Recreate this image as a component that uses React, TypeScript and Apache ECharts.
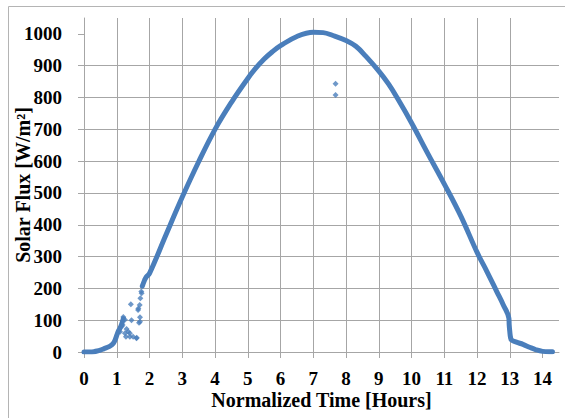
import React, { useEffect, useRef } from "react";
import * as echarts from "echarts";

// Normalized time [hours] and solar flux [W/m²]
const dawnHours = [0.0, 0.1, 0.2, 0.3, 0.4, 0.5, 0.6, 0.7, 0.8, 0.9, 0.95, 1.0, 1.05, 1.1, 1.15, 1.2];
const dawnFlux = [0, 0, 0, 1, 3, 6, 10, 14, 19, 28, 38, 52, 66, 75, 88, 105];

const dayHours = [
  1.78, 1.85, 1.9, 2.0, 2.5, 3.0, 3.5, 4.0, 4.5, 5.0, 5.25, 5.5, 5.75, 6.0, 6.5, 7.0, 7.3, 7.6, 8.0, 8.3,
  8.6, 9.0, 9.3, 9.6, 10.0, 10.5, 11.0, 11.5, 12.0, 12.3, 12.6, 12.8, 12.97, 12.98, 13.0, 13.02, 13.05,
  13.2, 13.4, 13.6, 13.8, 14.0, 14.2, 14.3,
];
const dayFlux = [
  207, 226, 236, 247, 368, 487, 598, 700, 785, 860, 893, 921, 944, 963, 992, 1005, 1004, 995, 979, 961,
  930, 883, 842, 792, 720, 623, 528, 428, 313, 253, 190, 148, 106, 85, 62, 46, 38,
  31, 24, 15, 7, 2, 1, 1,
];

const scatterHours = [
  1.1, 1.15, 1.18, 1.2, 1.25, 1.25, 1.28, 1.3, 1.35, 1.4, 1.4, 1.43, 1.45, 1.5, 1.6, 1.61, 1.65, 1.66,
  1.68, 1.7, 1.71, 1.71, 1.72, 1.75, 1.76, 7.68, 7.68,
];
const scatterFlux = [
  64, 80, 85, 110, 101, 59, 48, 72, 64, 59, 48, 150, 100, 48, 43, 45, 132, 137,
  92, 148, 109, 95, 169, 190, 185, 843, 808,
];

const xTicks = [0, 1, 2, 3, 4, 5, 6, 7, 8, 9, 10, 11, 12, 13, 14];
const yTicks = [0, 100, 200, 300, 400, 500, 600, 700, 800, 900, 1000];

const BLUE = "#4A7EBB";
const GRID = "#a6a6a6";
const FONT = "'Liberation Serif', 'Times New Roman', serif";

const pairs = (xs: number[], ys: number[]) => xs.map((x, i) => [x, ys[i]]);

export default function App() {
  const ref = useRef<HTMLDivElement>(null);
  useEffect(() => {
    if (!ref.current) return;
    const chart = echarts.init(ref.current, undefined, { renderer: "svg" });
    chart.setOption({
      animation: false,
      backgroundColor: "#ffffff",
      graphic: [
        {
          type: "rect",
          shape: { x: 8.5, y: 6.5, width: 620, height: 480 },
          style: { fill: "none", stroke: "#b4b4b4", lineWidth: 1 },
          silent: true,
          z: -1,
        },
      ],
      grid: {
        left: 84,
        top: 18,
        width: 475,
        height: 334,
        containLabel: false,
        outerBoundsMode: "none",
      },
      xAxis: {
        type: "value",
        min: 0,
        max: 14.5,
        interval: 1,
        name: "Normalized Time [Hours]",
        nameLocation: "middle",
        nameGap: 38,
        nameMoveOverlap: false,
        nameTextStyle: { fontFamily: FONT, fontWeight: "bold", fontSize: 20, color: "#000" },
        axisLine: { show: true, onZero: false, lineStyle: { color: GRID, width: 1 } },
        axisTick: { show: true, length: 6, inside: false, customValues: xTicks, lineStyle: { color: GRID } },
        axisLabel: {
          customValues: xTicks,
          margin: 17,
          fontFamily: FONT,
          fontWeight: "bold",
          fontSize: 19,
          color: "#000",
          formatter: (v: number) => String(v),
        },
        splitLine: { show: true, showMinLine: false, showMaxLine: false, lineStyle: { color: GRID, width: 1 } },
      },
      yAxis: {
        type: "value",
        min: 0,
        max: 1050,
        interval: 100,
        name: "Solar Flux [W/m²]",
        nameLocation: "middle",
        nameRotate: 90,
        nameGap: 51,
        nameMoveOverlap: false,
        nameTextStyle: { fontFamily: FONT, fontWeight: "bold", fontSize: 20, color: "#000" },
        axisLine: { show: true, lineStyle: { color: GRID, width: 1 } },
        axisTick: { show: true, length: 6, inside: false, customValues: yTicks, lineStyle: { color: GRID } },
        axisLabel: {
          customValues: yTicks,
          margin: 22,
          fontFamily: FONT,
          fontWeight: "bold",
          fontSize: 19,
          color: "#000",
          formatter: (v: number) => String(v),
        },
        splitLine: { show: true, showMinLine: false, showMaxLine: false, lineStyle: { color: GRID, width: 1 } },
      },
      series: [
        {
          type: "line",
          data: pairs(dawnHours, dawnFlux),
          showSymbol: false,
          smooth: 0.3,
          lineStyle: { color: BLUE, width: 5, cap: "round", join: "round" },
        },
        {
          type: "line",
          data: pairs(dayHours, dayFlux),
          showSymbol: false,
          smooth: 0.4,
          lineStyle: { color: BLUE, width: 5, cap: "round", join: "round" },
        },
        {
          type: "scatter",
          data: pairs(scatterHours, scatterFlux),
          symbol: "diamond",
          symbolSize: 6,
          itemStyle: { color: BLUE },
        },
      ],
    });
    return () => chart.dispose();
  }, []);
  return (
    <div
      ref={ref}
      style={{ position: "fixed", left: 0, top: 0, width: 565, height: 418, background: "#fff" }}
    />
  );
}
